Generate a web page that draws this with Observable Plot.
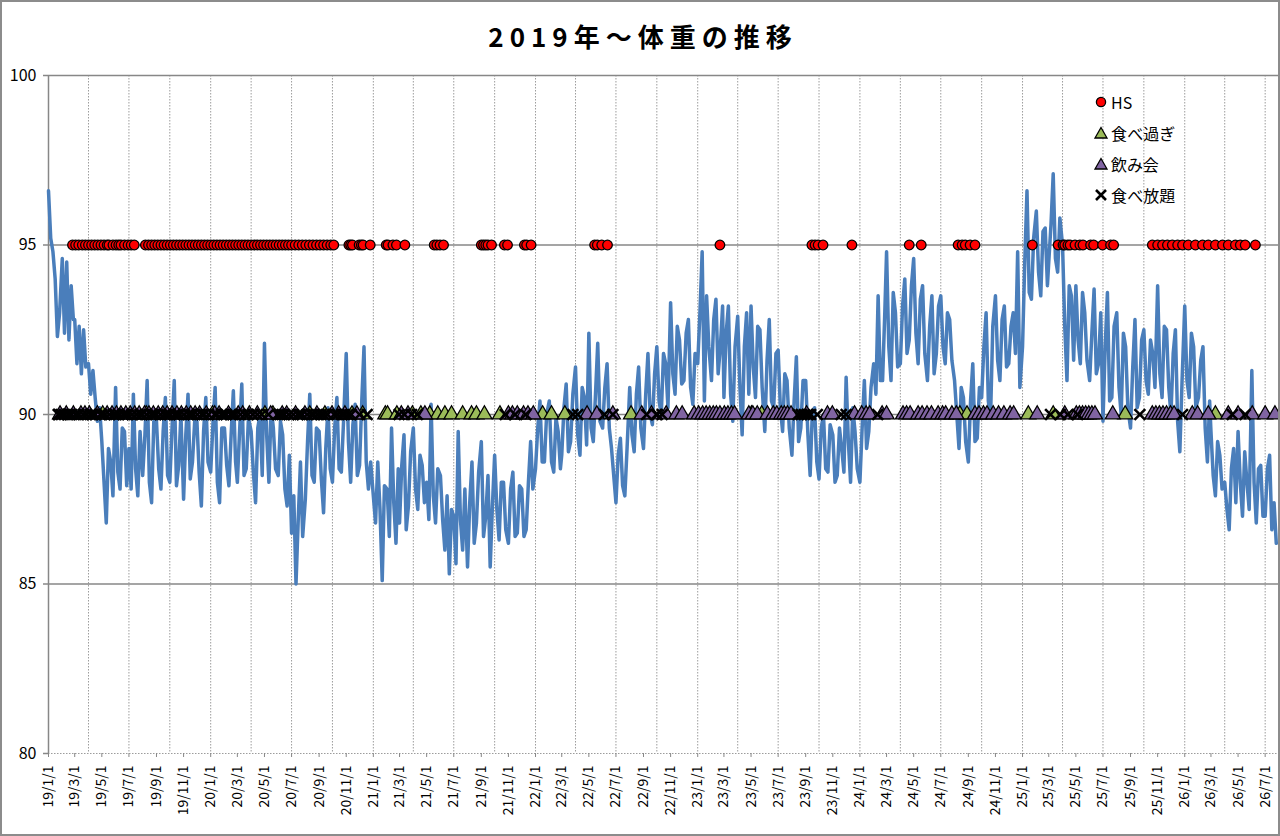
<!DOCTYPE html>
<html><head><meta charset="utf-8">
<script src="https://cdn.jsdelivr.net/npm/d3@7"></script>
<script src="https://cdn.jsdelivr.net/npm/@observablehq/plot@0.6"></script>
<style>
body{margin:0;background:#fff;}
#wrap{position:relative;width:1280px;height:836px;overflow:hidden;font-family:"Noto Sans CJK JP","Noto Sans",sans-serif;background:#fff;}
#chart{position:absolute;left:0;top:0;}
#border{position:absolute;left:0;top:0;width:1280px;height:836px;box-sizing:border-box;border:2px solid #8c8c8c;pointer-events:none;}
#title{position:absolute;left:0;width:1280px;top:17px;text-align:center;font-size:26px;font-weight:bold;letter-spacing:6px;padding-left:6px;box-sizing:border-box;line-height:38px;color:#000;}
#legend{position:absolute;left:1093px;top:86px;font-size:16px;color:#000;font-feature-settings:"palt";}
#legend .item{height:31px;display:flex;align-items:center;}
#legend svg{margin-right:2px;}
</style></head>
<body>
<div id="wrap">
  <div id="chart"></div>
  <div id="title">2019年～体重の推移</div>
  <div id="legend"></div>
  <div id="border"></div>
</div>
<script>
// ---- weight readings (kg) at day 1, 6, 11, 16, 21, 26 of each month ----
const w2019 = [96.6,95.2,94.8,94.0,92.3,93.0, 94.6,92.4,94.5,92.2,93.8,92.8, 92.8,91.5,92.6,91.2,92.5,91.4,
               91.5,90.6,91.3,90.5,89.8,90.2, 89.2,88.0,86.8,89.0,88.6,87.6, 90.8,88.3,87.8,89.6,89.5,87.9,
               89.0,87.8,90.6,88.4,87.6,89.5, 88.2,89.4,91.0,88.0,87.4,89.8, 89.8,88.4,87.8,89.5,90.5,88.2,
               88.0,89.6,91.0,87.9,88.5,90.0, 87.5,89.4,90.6,88.1,88.6,89.8, 89.8,88.3,87.3,89.5,90.5,88.6];
const w2020 = [88.3,89.7,90.8,88.0,87.4,89.6, 89.6,88.5,87.9,89.4,90.7,88.6, 88.0,89.5,90.9,88.2,88.4,89.9,
               89.5,88.3,87.4,89.6,90.0,88.2, 92.1,89.4,88.0,90.2,89.6,88.4, 88.2,89.8,89.4,87.8,87.3,88.8,
               86.5,87.6,85.0,86.9,88.6,86.4, 87.5,89.2,90.6,88.2,88.0,89.6, 89.5,88.1,87.1,89.0,90.2,88.4,
               88.0,89.6,90.5,88.4,88.3,89.8, 91.8,89.2,88.0,89.7,90.3,88.2, 88.5,90.4,92.0,88.6,87.8,88.6];
const w2021 = [87.6,86.8,88.6,87.2,85.1,87.9, 87.8,86.4,89.6,87.4,86.2,88.4, 86.8,88.5,89.4,86.6,87.3,88.9,
               89.6,87.8,87.2,88.8,88.5,87.4, 88.0,86.9,90.3,87.6,86.8,88.4, 88.2,86.9,86.0,87.6,85.3,87.2,
               87.0,85.6,89.5,86.9,86.0,87.8, 85.5,87.4,88.6,86.2,86.8,88.3, 89.2,86.4,87.0,88.2,85.5,87.3,
               88.8,87.2,86.3,88.0,88.0,86.6, 86.2,87.8,88.3,86.4,86.5,87.9, 87.8,86.4,86.6,88.0,89.2,87.8];
const w2022 = [88.4,89.6,90.4,88.6,88.6,90.0, 90.4,88.6,88.3,89.9,89.5,88.4, 88.8,90.2,90.9,88.9,89.2,90.6,
               91.4,89.4,88.8,90.8,90.5,89.1, 92.4,89.6,89.2,90.6,92.1,89.8, 89.6,90.8,91.5,89.6,89.0,88.2,
               87.4,88.8,89.3,87.9,87.6,89.0, 90.8,89.4,88.9,90.6,91.4,89.6, 89.0,90.6,91.8,90.0,89.7,91.2,
               92.0,90.4,90.0,91.8,91.5,90.2, 93.3,91.2,90.6,92.6,92.2,90.9, 91.0,92.4,92.8,90.8,90.3,91.8];
const w2023 = [91.5,93.0,94.8,90.4,93.5,92.0, 91.0,92.8,93.4,91.2,92.0,93.2, 90.5,92.4,93.2,90.6,89.8,92.0,
               92.9,90.8,89.4,92.0,93.0,90.6, 93.2,91.4,90.5,92.6,92.5,90.8, 89.5,91.6,92.8,90.4,90.2,91.8,
               91.9,90.2,89.5,91.2,91.0,89.6, 88.8,90.4,91.7,89.2,89.6,91.0, 91.0,89.4,88.2,90.1,90.2,88.6,
               88.1,89.6,90.0,88.4,88.3,89.7, 89.4,88.0,88.2,89.6,89.0,88.3, 91.1,89.2,88.0,90.2,89.5,88.4];
const w2024 = [88.0,89.6,91.0,89.0,89.5,90.8, 91.5,90.6,93.5,91.0,91.0,93.0, 94.8,92.0,91.0,93.6,93.0,91.4,
               91.5,93.2,94.0,91.8,92.2,93.8, 94.6,92.4,91.5,93.4,93.8,91.8, 91.0,92.6,93.5,91.2,91.8,93.2,
               93.5,92.0,91.5,93.0,92.8,91.6, 91.0,90.0,89.0,90.8,90.5,89.2, 88.6,90.4,91.5,89.2,89.3,90.8,
               90.5,92.0,93.0,90.4,89.9,92.6, 93.5,91.6,91.0,92.8,93.2,91.4, 91.5,92.6,93.0,91.8,94.8,90.8];
const w2025 = [92.0,94.5,96.6,93.6,93.4,95.2, 96.0,94.2,93.5,95.4,95.5,93.8, 94.5,95.6,97.1,94.6,94.2,95.8,
               95.0,92.6,91.0,93.8,93.5,91.6, 93.8,92.2,91.5,93.6,93.0,91.6, 91.0,92.4,93.7,91.2,91.5,93.0,
               89.8,92.0,93.6,90.4,90.5,92.6, 93.0,90.8,90.0,92.4,92.0,90.2, 89.6,91.4,92.8,90.2,90.5,92.2,
               92.5,91.0,90.6,92.2,91.8,90.8, 93.8,91.2,90.5,92.6,92.5,90.8, 90.0,91.8,92.5,89.8,88.9,91.0];
const w2026 = [93.2,91.0,90.5,92.4,92.0,90.2, 90.5,91.6,92.0,89.6,88.6,90.4, 89.5,88.2,87.6,89.2,88.8,87.8,
               88.0,87.2,86.6,88.4,89.0,87.4, 89.5,88.0,87.0,88.9,88.0,87.2, 91.3,88.0,86.8,88.4,88.5,87.0,
               87.0,88.4,88.8,86.6,87.4,86.2];
const weightYears = [2019,2020,2021,2022,2023,2024,2025,2026];
const weightSeries = [w2019,w2020,w2021,w2022,w2023,w2024,w2025,w2026];
const sampleDays = [1, 6, 11, 16, 21, 26];

// ---- event dates (YY-MM-DD) ----
const hsDates = ["19-02-24","19-03-03","19-03-10","19-03-18","19-03-25","19-04-01","19-04-08","19-04-15","19-04-22","19-04-29","19-05-06","19-05-13","19-05-17","19-05-26","19-06-02","19-06-08","19-06-13","19-06-21","19-06-29","19-07-06","19-07-13",
"19-08-07","19-08-14","19-08-21","19-08-28","19-09-04","19-09-11","19-09-18","19-09-25","19-10-02","19-10-09","19-10-16","19-10-23","19-10-30","19-11-06","19-11-13","19-11-20","19-11-27","19-12-04","19-12-11","19-12-18","19-12-25",
"20-01-01","20-01-08","20-01-15","20-01-22","20-01-29","20-02-05","20-02-12","20-02-19","20-02-26","20-03-04","20-03-11","20-03-18","20-03-25","20-04-01","20-04-08","20-04-15","20-04-22","20-04-29","20-05-06","20-05-13","20-05-20","20-05-27","20-06-03","20-06-10","20-06-17","20-06-24","20-07-01","20-07-09","20-07-17","20-07-25","20-08-02","20-08-10","20-08-18","20-08-26","20-09-03","20-09-11","20-09-19","20-09-27","20-10-04",
"20-11-07","20-11-11","20-11-15","20-11-30","20-12-05","20-12-09","20-12-25",
"21-01-30","21-02-03","21-02-14","21-02-22","21-03-13",
"21-05-18","21-05-24","21-05-31","21-06-08",
"21-09-01","21-09-06","21-09-11","21-09-16","21-09-24",
"21-10-23","21-10-30","21-12-07","21-12-12","21-12-22",
"22-05-14","22-05-20","22-05-30","22-06-12",
"23-02-20","23-09-15","23-09-22","23-09-29","23-10-10","23-12-14",
"24-04-21","24-05-18","24-08-09","24-08-18","24-08-25","24-09-05","24-09-16",
"25-01-23","25-03-22","25-04-02","25-04-06","25-04-13","25-04-18","25-04-29","25-05-10","25-05-17",
"25-06-03","25-06-10","25-06-30","25-07-18","25-07-25",
"25-10-20","25-11-01","25-11-12","25-11-23","25-12-04","25-12-16","25-12-27",
"26-01-09","26-01-25","26-02-10","26-02-23","26-03-11","26-03-27","26-04-09","26-04-25","26-05-06","26-05-17","26-06-09"];

const tabesugiDates = ["19-05-03","19-08-09",
"20-01-05","20-05-02","20-05-20","20-08-11","20-09-14","20-11-14","20-12-08",
"21-01-28","21-02-02","21-02-23","21-03-30","21-04-18","21-05-08","21-05-26","21-06-11","21-06-26","21-07-21","21-08-10","21-08-21","21-09-08","21-10-13",
"22-01-17","22-02-06","22-03-08","22-08-04",
"23-05-02","23-05-25",
"24-08-13","24-08-29",
"25-01-14","25-03-11","25-08-20",
"26-03-11"];

const nomikaiDates = ["19-01-27","19-02-10","19-02-26","19-03-15","19-03-24","19-04-03","19-04-21","19-05-13","19-05-24","19-06-03","19-06-13","19-06-24","19-07-04","19-07-14","19-07-24","19-08-05","19-08-15","19-08-25","19-09-05","19-09-15","19-09-25","19-10-06","19-10-17","19-10-27","19-11-07","19-11-17","19-11-27","19-12-07","19-12-22",
"20-01-10","20-01-20","20-02-10","20-03-03","20-03-13","20-03-28","20-04-15","20-05-15","20-06-10","20-06-20","20-07-10","20-07-31","20-08-27","20-09-30","20-10-15","20-10-29","20-11-25",
"21-03-05","21-03-20","21-04-27","21-11-01","21-11-10","21-11-21","21-12-05","21-12-15","21-12-27",
"22-04-27","22-05-19","22-06-24","22-08-28","22-09-19","22-10-22","22-11-14","22-11-27","22-12-24",
"23-01-03","23-01-12","23-01-20","23-01-28","23-02-05","23-02-12","23-02-20","23-03-02","23-03-10","23-03-18","23-03-25","23-04-26","23-05-05","23-05-15","23-06-07","23-06-20","23-06-28","23-07-08","23-07-15","23-07-22","23-07-30","23-09-03","23-10-20","23-10-31","23-12-20",
"24-01-05","24-01-15","24-01-23","24-02-20","24-03-01","24-04-07","24-04-15","24-04-23","24-05-11","24-05-20","24-05-31","24-06-10","24-06-25","24-07-05","24-07-12","24-07-26","24-08-05","24-09-16","24-09-25","24-10-05","24-10-13","24-10-27","24-11-08","24-11-20","24-12-04","24-12-12",
"25-02-03","25-04-06","25-05-02","25-05-09","25-05-16","25-05-23","25-05-30","25-06-06","25-06-13","25-07-23","25-10-20","25-10-28","25-11-05","25-11-13","25-11-21","25-11-30","25-12-08",
"26-01-18","26-01-30","26-02-23","26-04-09","26-05-01","26-06-02","26-07-01","26-07-23"];

const tabehoudaiDates = ["19-01-23","19-01-25","19-01-30","19-02-06","19-02-14","19-02-18","19-02-22","19-03-03","19-03-10","19-03-20","19-03-28","19-04-05","19-04-10","19-04-16","19-04-28","19-05-01","19-05-08","19-05-18","19-05-28","19-06-01","19-06-08","19-06-18","19-06-23","19-06-28","19-07-08","19-07-18","19-07-26","19-07-30","19-08-10","19-08-20","19-08-25","19-08-30","19-09-10","19-09-20","19-09-25","19-10-01","19-10-12","19-10-18","19-10-22","19-11-02","19-11-12","19-11-17","19-11-22","19-12-02","19-12-12","19-12-17","19-12-27",
"20-01-10","20-01-15","20-01-25","20-01-30","20-02-05","20-02-15","20-02-20","20-02-25","20-03-08","20-03-18","20-03-25","20-04-05","20-04-15","20-04-25","20-05-10","20-05-31","20-06-05","20-06-10","20-06-15","20-06-25","20-07-05","20-07-15","20-07-20","20-07-25","20-08-05","20-08-15","20-08-20","20-08-28","20-09-05","20-09-12","20-09-20","20-10-05","20-10-12","20-10-22","20-10-28","20-11-05","20-11-12","20-12-01","20-12-18",
"21-02-28","21-03-12","21-03-28","21-04-10","21-10-25","21-11-16","21-12-10",
"22-03-26","22-04-06","22-06-05","22-06-24","22-09-08","22-09-30","22-10-02","22-10-13",
"23-08-15","23-08-22","23-08-29","23-09-05","23-09-12","23-09-27","23-11-20","23-12-01",
"24-02-10",
"25-03-05","25-03-27","25-04-13","25-05-05","25-09-22","25-12-27",
"26-04-18","26-05-17"];

const seriesNames = ["HS","食べ過ぎ","飲み会","食べ放題"];
const eventLevels = [95, 90, 90, 90];

const xTickLabels = ["19/1/1","19/3/1","19/5/1","19/7/1","19/9/1","19/11/1",
"20/1/1","20/3/1","20/5/1","20/7/1","20/9/1","20/11/1",
"21/1/1","21/3/1","21/5/1","21/7/1","21/9/1","21/11/1",
"22/1/1","22/3/1","22/5/1","22/7/1","22/9/1","22/11/1",
"23/1/1","23/3/1","23/5/1","23/7/1","23/9/1","23/11/1",
"24/1/1","24/3/1","24/5/1","24/7/1","24/9/1","24/11/1",
"25/1/1","25/3/1","25/5/1","25/7/1","25/9/1","25/11/1",
"26/1/1","26/3/1","26/5/1","26/7/1"];
const yTicks = [80, 85, 90, 95, 100];

// ---- build tables ----
const toDate = s => { const [y, m, d] = s.split(/[-\/]/).map(Number); return new Date(Date.UTC(2000 + y, m - 1, d)); };
const perMonth = sampleDays.length;
const weights = weightYears.flatMap((yr, k) => weightSeries[k].map((w, i) =>
  ({date: new Date(Date.UTC(yr, Math.floor(i / perMonth), sampleDays[i % perMonth])), w})));
const ev = (list, level) => list.map(s => ({date: toDate(s), y: level}));
const hs = ev(hsDates, eventLevels[0]);
const tabesugi = ev(tabesugiDates, eventLevels[1]);
const nomikai = ev(nomikaiDates, eventLevels[2]);
const tabehoudai = ev(tabehoudaiDates, eventLevels[3]);
const xTicks = xTickLabels.map(toDate);
const fmt = d => `${d.getUTCFullYear() % 100}/${d.getUTCMonth() + 1}/${d.getUTCDate()}`;

const start = new Date(Date.UTC(2019, 0, 1));
const end = new Date(Date.UTC(2026, 6, 31));
const quarterly = d3.utcMonth.every(3).range(new Date(Date.UTC(2019, 3, 1)), end);

const chart = Plot.plot({
  width: 1280, height: 836,
  marginLeft: 48, marginRight: 2, marginTop: 75, marginBottom: 83,
  style: {fontFamily: "'Noto Sans CJK JP','Noto Sans',sans-serif", background: "transparent", color: "#000", overflow: "visible"},
  x: {type: "utc", domain: [start, end], label: null},
  y: {domain: [80, 100], label: null},
  marks: [
    Plot.gridX(quarterly, {stroke: "#9c9c9c", strokeOpacity: 1, strokeDasharray: "1.5,1.5", strokeWidth: 1}),
    Plot.ruleY(yTicks.filter(v => v > 80), {stroke: "#878787", strokeWidth: 1.5}),
    Plot.ruleY([80], {stroke: "#9c9c9c", strokeDasharray: "1.5,1.5", strokeWidth: 1.2}),
    Plot.ruleX([start], {stroke: "#878787", strokeWidth: 1.5}),
    Plot.axisY(yTicks, {tickSize: 5, tickPadding: 7, fontSize: 16, stroke: "#878787", strokeWidth: 1.5, label: null}),
    Plot.axisX(xTicks, {tickFormat: fmt, tickRotate: -90, tickSize: 4, tickPadding: 8, fontSize: 14, stroke: "#878787", label: null}),
    Plot.lineY(weights, {x: "date", y: "w", stroke: "#4a7ebb", strokeWidth: 3.5, strokeLinejoin: "round"}),
    Plot.dot(hs, {x: "date", y: "y", symbol: "circle", r: 4.8, fill: "#ff0000", stroke: "#000", strokeWidth: 1.3}),
    Plot.dot(tabesugi, {x: "date", y: "y", symbol: "triangle", r: 5.6, fill: "#9bbb59", stroke: "#000", strokeWidth: 1.3}),
    Plot.dot(nomikai, {x: "date", y: "y", symbol: "triangle", r: 5.6, fill: "#8064a2", stroke: "#000", strokeWidth: 1.3}),
    Plot.dot(tabehoudai, {x: "date", y: "y", symbol: "times", r: 5, stroke: "#000", strokeWidth: 2.6})
  ]
});
document.getElementById("chart").appendChild(chart);

// ---- legend ----
const legendSymbols = [
  '<svg width="16" height="14"><circle cx="8" cy="7" r="4.6" fill="#ff0000" stroke="#000" stroke-width="1.3"/></svg>',
  '<svg width="16" height="14"><path d="M8 1.5 L14 12 L2 12 Z" fill="#9bbb59" stroke="#000" stroke-width="1.3"/></svg>',
  '<svg width="16" height="14"><path d="M8 1.5 L14 12 L2 12 Z" fill="#8064a2" stroke="#000" stroke-width="1.3"/></svg>',
  '<svg width="16" height="14"><path d="M3 2 L13 12 M13 2 L3 12" stroke="#000" stroke-width="2.6"/></svg>'
];
document.getElementById("legend").innerHTML = seriesNames.map((n, i) =>
  `<div class="item">${legendSymbols[i]}<span>${n}</span></div>`).join("");
</script>
</body></html>
